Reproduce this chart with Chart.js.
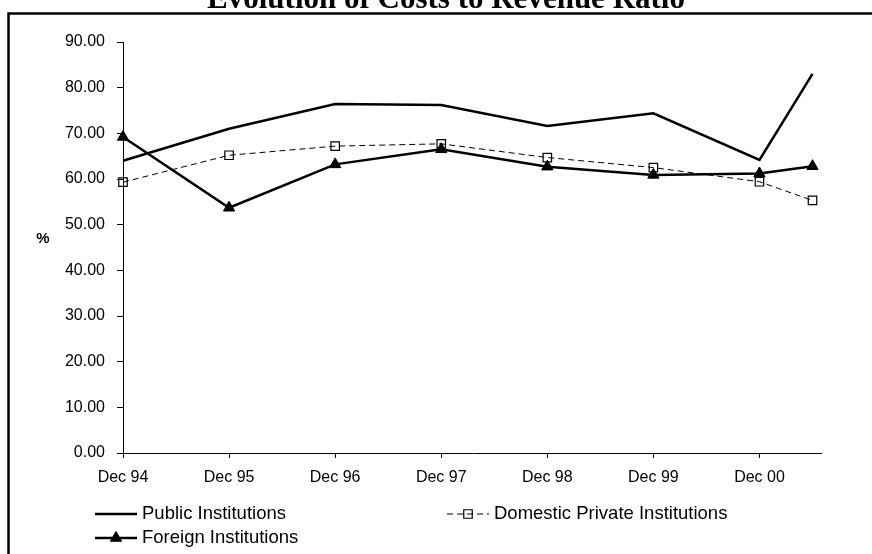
<!DOCTYPE html>
<html>
<head>
<meta charset="utf-8">
<script src="https://cdn.jsdelivr.net/npm/chart.js@4/dist/chart.umd.min.js"></script>
<style>
  html, body { margin: 0; padding: 0; background: #fff; }
  #wrap { width: 872px; height: 554px; position: relative; }
</style>
</head>
<body>
<div id="wrap"><canvas id="c" width="872" height="554"></canvas></div>
<script>
// Period labels on the time axis (years since Dec 94)
const periods = ['Dec 94', 'Dec 95', 'Dec 96', 'Dec 97', 'Dec 98', 'Dec 99', 'Dec 00'];
// Position of each observation along the time axis (last one is mid-2001)
const periodPos = [0, 1, 2, 3, 4, 5, 6, 6.5];

// Costs to revenue ratio, %
const publicInst   = [64.0, 71.0, 76.4, 76.2, 71.6, 74.4, 64.2, 83.0];
const domesticInst = [59.3, 65.2, 67.2, 67.7, 64.7, 62.5, 59.4, 55.3];
const foreignInst  = [69.2, 53.7, 63.2, 66.5, 62.7, 60.9, 61.2, 62.8];

const yTicks = [0, 10, 20, 30, 40, 50, 60, 70, 80, 90];

const toPoints = vals => vals.map((v, i) => ({ x: periodPos[i], y: v }));

const SANS = '"Liberation Sans", Arial, sans-serif';

// Frame, title, axis unit and legend drawn on top of the chart
const decor = {
  id: 'decor',
  afterDraw(chart) {
    const ctx = chart.ctx;
    ctx.save();
    // outer frame (left and top edges)
    ctx.strokeStyle = '#000';
    ctx.lineWidth = 2.5;
    ctx.beginPath();
    ctx.moveTo(8.5, 554);
    ctx.lineTo(8.5, 13.5);
    ctx.lineTo(872, 13.5);
    ctx.stroke();

    // title
    ctx.fillStyle = '#000';
    ctx.font = 'bold 31px "Liberation Serif", "Times New Roman", serif';
    ctx.textAlign = 'center';
    ctx.textBaseline = 'alphabetic';
    ctx.fillText('Evolution of Costs to Revenue Ratio', 446, 8);

    // unit label
    ctx.font = 'bold 15px ' + SANS;
    ctx.textAlign = 'center';
    ctx.textBaseline = 'middle';
    ctx.fillText('%', 43, 239);

    // legend
    const slots = [
      { x: 95, y: 514 },
      { x: 447, y: 514 },
      { x: 95, y: 538 }
    ];
    ctx.font = '18.5px ' + SANS;
    chart.data.datasets.forEach((ds, i) => {
      const s = slots[i];
      const len = 42;
      ctx.save();
      ctx.strokeStyle = ds.borderColor;
      ctx.lineWidth = ds.borderWidth;
      ctx.setLineDash(ds.borderDash || []);
      ctx.beginPath();
      ctx.moveTo(s.x, s.y);
      ctx.lineTo(s.x + len, s.y);
      ctx.stroke();
      ctx.restore();
      if (ds.pointRadius > 0) {
        ctx.save();
        ctx.fillStyle = ds.pointBackgroundColor;
        ctx.strokeStyle = ds.pointBorderColor;
        ctx.lineWidth = ds.pointBorderWidth;
        Chart.helpers.drawPoint(ctx, {
          pointStyle: ds.pointStyle,
          rotation: 0,
          radius: ds.pointRadius,
          borderWidth: ds.pointBorderWidth
        }, s.x + len / 2, s.y);
        ctx.restore();
      }
      ctx.fillStyle = '#000';
      ctx.textAlign = 'left';
      ctx.textBaseline = 'middle';
      ctx.fillText(ds.label, s.x + len + 5, s.y);
    });
    ctx.restore();
  }
};

new Chart(document.getElementById('c'), {
  type: 'line',
  data: {
    datasets: [
      {
        label: 'Public Institutions',
        data: toPoints(publicInst),
        borderColor: '#000',
        borderWidth: 2.5,
        pointRadius: 0,
        pointHoverRadius: 0,
        tension: 0,
        clip: false
      },
      {
        label: 'Domestic Private Institutions',
        data: toPoints(domesticInst),
        borderColor: '#000',
        borderWidth: 1,
        borderDash: [6, 4],
        pointStyle: 'rect',
        pointRadius: 6,
        pointBackgroundColor: 'rgba(255,255,255,0)',
        pointBorderColor: '#000',
        pointBorderWidth: 1.2,
        tension: 0,
        clip: false
      },
      {
        label: 'Foreign Institutions',
        data: toPoints(foreignInst),
        borderColor: '#000',
        borderWidth: 2.5,
        pointStyle: 'triangle',
        pointRadius: 6.5,
        pointBackgroundColor: '#000',
        pointBorderColor: '#000',
        pointBorderWidth: 1,
        tension: 0,
        clip: false
      }
    ]
  },
  options: {
    responsive: false,
    animation: false,
    events: [],
    layout: { padding: { left: 10, right: 51, top: 42, bottom: 0 } },
    plugins: {
      legend: { display: false },
      title: { display: false },
      tooltip: { enabled: false }
    },
    scales: {
      x: {
        type: 'linear',
        min: 0,
        max: 6.58,
        afterFit(scale) { scale.height = 101; },
        afterBuildTicks(scale) {
          scale.ticks = periods.map((p, i) => ({ value: i }));
        },
        grid: {
          display: true,
          drawOnChartArea: false,
          drawTicks: true,
          tickLength: 5,
          color: '#000',
          lineWidth: 1
        },
        border: { display: true, color: '#000', width: 1 },
        ticks: {
          includeBounds: false,
          autoSkip: false,
          maxRotation: 0,
          padding: 10,
          color: '#000',
          font: { family: SANS, size: 16 },
          callback: v => periods[v] ?? ''
        }
      },
      y: {
        min: 0,
        max: 90,
        afterFit(scale) { scale.width = 113; },
        afterBuildTicks(scale) {
          scale.ticks = yTicks.map(v => ({ value: v }));
        },
        grid: {
          display: true,
          drawOnChartArea: false,
          drawTicks: true,
          tickLength: 6,
          color: '#000',
          lineWidth: 1
        },
        border: { display: true, color: '#000', width: 1 },
        ticks: {
          padding: 12,
          color: '#000',
          font: { family: SANS, size: 16 },
          callback: v => Number(v).toFixed(2)
        }
      }
    }
  },
  plugins: [decor]
});
</script>
</body>
</html>
